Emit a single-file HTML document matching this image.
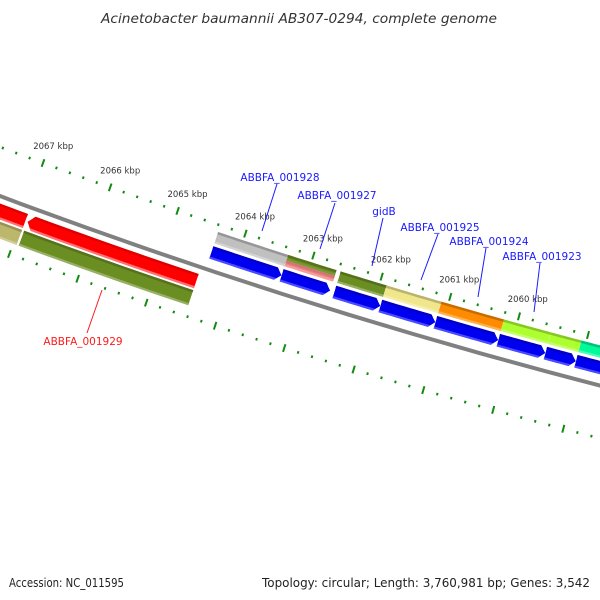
<!DOCTYPE html>
<html><head><meta charset="utf-8"><style>
html,body{margin:0;padding:0;background:#fff;}
svg{display:block;font-family:"DejaVu Sans","Liberation Sans",sans-serif;}
</style></head><body>
<svg id="map" width="600" height="600" viewBox="0 0 600 600" xmlns="http://www.w3.org/2000/svg">
<rect width="600" height="600" fill="#fff"/>
<text x="101" y="23" textLength="396" lengthAdjust="spacingAndGlyphs" font-size="13" font-style="italic" fill="#333">Acinetobacter baumannii AB307-0294, complete genome</text>
<text x="9" y="587" textLength="115" lengthAdjust="spacingAndGlyphs" font-size="12" fill="#222">Accession: NC_011595</text>
<text x="262" y="587" textLength="328" lengthAdjust="spacingAndGlyphs" font-size="12" fill="#222">Topology: circular; Length: 3,760,981 bp; Genes: 3,542</text>
<defs id="defs"></defs>
<g id="plot"></g>
</svg>
<script>
// ---- data (kbp) ----
const fwdStarts = [2064.37, 2063.34, 2062.57, 2061.90, 2061.10, 2060.19, 2059.51, 2059.07];
const fwdEnds   = [2063.34, 2062.63, 2061.90, 2061.10, 2060.19, 2059.51, 2059.07, 2058.30];
const fwdCog    = ["#c0c0c0", "#6b8e23", "#6b8e23", "#f0e68c", "#ff8c00", "#adff2f", "#adff2f", "#00fa9a"];
const fwdCog2   = [null, "#f08080", null, null, null, null, null, null];
const revStarts = [2068.60, 2066.92];
const revEnds   = [2066.95, 2064.44];
const revCog    = ["#bdb76b", "#6b8e23"];
const tickLabels = [2060, 2061, 2062, 2063, 2064, 2065, 2066, 2067];
const featLabels = ["ABBFA_001928", "ABBFA_001927", "gidB", "ABBFA_001925", "ABBFA_001924", "ABBFA_001923", "ABBFA_001929"];
const featLabelX = [280, 337, 384, 440, 489, 542, 83];
const featLabelY = [177, 195, 211, 227, 241, 256, 341];
const featLineX1 = [277, 335, 383, 438, 486, 540, 102];
const featLineY1 = [184, 203, 218, 234, 248, 263, 290];
const featLineX2 = [262, 320, 372, 421, 478, 534, 87];
const featLineY2 = [231, 249, 266, 280, 297, 312, 333];
const featColor  = ["#1a1aff", "#1a1aff", "#1a1aff", "#1a1aff", "#1a1aff", "#1a1aff", "#ff1a1a"];

// ---- geometry ----
const NS = "http://www.w3.org/2000/svg";
const cx = 2098, cy = -5400;
const R0 = Math.hypot(43 - cx, 163 - cy);
const a67 = Math.atan2(163 - cy, 43 - cx), a59 = Math.atan2(335 - cy, 588 - cx);
const K = (a67 - a59) / 8;
function ang(k) { return a59 + (k - 2059) * K; }
function pt(k, d) { const a = ang(k), r = R0 + d; return [cx + r * Math.cos(a), cy + r * Math.sin(a)]; }
function arcPts(k1, k2, d) { const p = []; for (let i = 0; i <= 12; i++) p.push(pt(k1 + (k2 - k1) * i / 12, d)); return p; }
function kbpPx(px, d) { return px / ((R0 + d) * K); }
function toPath(pts) { return "M" + pts.map(p => p[0].toFixed(2) + "," + p[1].toFixed(2)).join("L") + "Z"; }
function shape(s, e, d1, d2, arrow) {
  const dm = (d1 + d2) / 2, al = kbpPx(6, dm);
  let bs = s, be = e;
  if (arrow === 'e') be = Math.min(s, e + al);
  if (arrow === 's') bs = Math.max(e, s - al);
  let pts = arcPts(bs, be, d1);
  if (arrow === 'e') pts.push(pt(e, dm));
  pts = pts.concat(arcPts(be, bs, d2));
  if (arrow === 's') pts.push(pt(s, dm));
  return toPath(pts);
}
const plot = document.getElementById('plot');
const defs = document.getElementById('defs');
function mk(tag, attrs, parent) { const el = document.createElementNS(NS, tag); for (const k in attrs) el.setAttribute(k, attrs[k]); (parent || plot).appendChild(el); return el; }
let clipId = 0;
function feature(s, e, d1, d2, arrow, main, top, bottom, name) {
  const g = mk('g', {});
  
  
  const id = 'c' + (clipId++);
  const cp = mk('clipPath', { id: id }, defs);
  mk('path', { d: shape(s, e, d1, d2, arrow) }, cp);
  const inner = mk('g', { 'clip-path': 'url(#' + id + ')' }, g);
  mk('path', { d: shape(s, e, d1, d2, arrow), fill: main }, inner);
  mk('path', { d: toPath(arcPts(s + 0.1, e - 0.1, d1 - 1).concat(arcPts(e - 0.1, s + 0.1, d1 + 2.5))), fill: top }, inner);
  mk('path', { d: toPath(arcPts(s + 0.1, e - 0.1, d2 - 2.2).concat(arcPts(e - 0.1, s + 0.1, d2 + 1))), fill: bottom }, inner);
  return g;
}
function shade(c, f) {
  const n = parseInt(c.slice(1), 16); let r = n >> 16, g = (n >> 8) & 255, b = n & 255;
  if (f < 0) { r *= (1 + f); g *= (1 + f); b *= (1 + f); } else { r += (255 - r) * f; g += (255 - g) * f; b += (255 - b) * f; }
  return 'rgb(' + Math.round(r) + ',' + Math.round(g) + ',' + Math.round(b) + ')';
}

// backbone
const bb = mk('path', { d: toPath(arcPts(2069, 2057.5, 44).concat(arcPts(2057.5, 2069, 48))), fill: '#808080' });



// forward genes
for (let i = 0; i < fwdStarts.length; i++) {
  const s = fwdStarts[i], e = fwdEnds[i];
  feature(s, e, 22, 35, 'e', '#0000f0', '#0000c8', '#4a4aff', 'forward-cds-' + (i + 1));
  if (fwdCog2[i]) {
    feature(s, e, 7, 13, null, fwdCog[i], shade(fwdCog[i], -0.2), shade(fwdCog[i], 0.1), 'forward-cog-' + (i + 1) + 'a');
    feature(s, e, 13, 19, null, fwdCog2[i], shade(fwdCog2[i], -0.1), shade(fwdCog2[i], 0.25), 'forward-cog-' + (i + 1) + 'b');
  } else {
    feature(s, e, 7, 19, null, fwdCog[i], shade(fwdCog[i], -0.22), shade(fwdCog[i], 0.3), 'forward-cog-' + (i + 1));
  }
}
// reverse genes
for (let i = 0; i < revStarts.length; i++) {
  const s = revStarts[i], e = revEnds[i];
  feature(s, e, 53, 68, 's', '#ff0000', '#e00000', '#ff7070', 'reverse-cds-' + (i + 1));
  feature(s, e, 70, 86, null, revCog[i], shade(revCog[i], -0.2), shade(revCog[i], 0.3), 'reverse-cog-' + (i + 1));
}

// ticks
for (let t = 0; t <= 55; t++) {
  const k = 2068.6 - t * 0.2;
  const major = Math.abs(k - Math.round(k)) < 0.01;
  const h = major ? 4 : 1.3;
  [0, 97].forEach((d, j) => {
    const p1 = pt(k, d - h), p2 = pt(k, d + h);
    const ln = mk('line', { x1: p1[0], y1: p1[1], x2: p2[0], y2: p2[1], stroke: '#138a13', 'stroke-width': 2 });
    
    
  });
}
tickLabels.forEach(k => {
  const p = pt(k, -18);
  const tx = mk('text', { x: p[0] + 4, y: p[1] + 3, 'text-anchor': 'middle', 'font-size': 8.5, fill: '#333' });
  tx.textContent = k + ' kbp';
  
  
});

// feature labels
for (let i = 0; i < featLabels.length; i++) {
  const ln = mk('line', { x1: featLineX1[i], y1: featLineY1[i], x2: featLineX2[i], y2: featLineY2[i], stroke: featColor[i], 'stroke-width': 1 });
  
  
  const tx = mk('text', { x: featLabelX[i], y: featLabelY[i] + 4, 'text-anchor': 'middle', 'font-size': 10.5, fill: featColor[i] });
  tx.textContent = featLabels[i];
  
  
}
</script>
</body></html>
